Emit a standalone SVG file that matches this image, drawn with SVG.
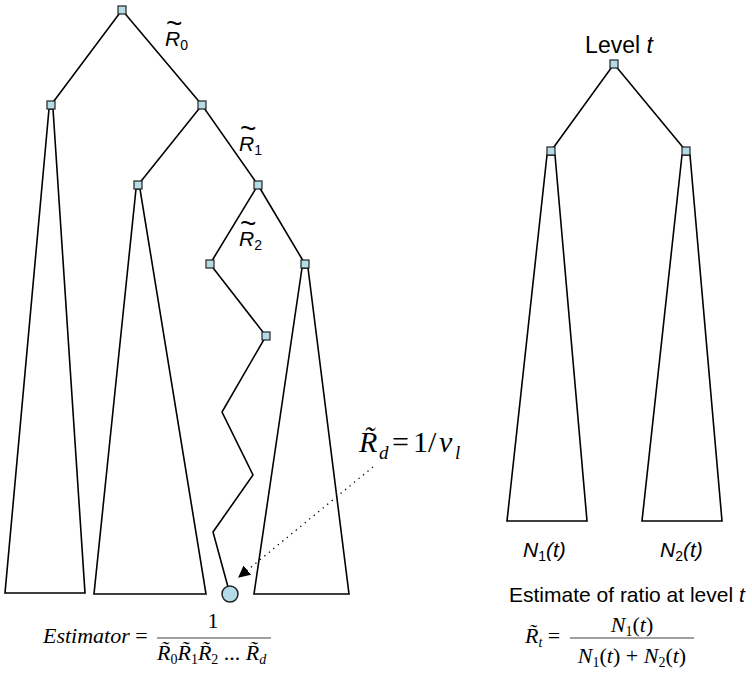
<svg xmlns="http://www.w3.org/2000/svg" width="752" height="673" viewBox="0 0 752 673">
<defs>
<style>
.ln{fill:none;stroke:#000;stroke-width:1.6;stroke-linejoin:miter}
.nd{fill:#b4dce8;stroke:#222;stroke-width:1.2}
.sa{font-family:"Liberation Sans",Arial,sans-serif;font-size:21px;fill:#000}
.sai{font-family:"Liberation Sans",Arial,sans-serif;font-size:21px;font-style:italic;fill:#000}
.tl{font-family:"Liberation Sans",Arial,sans-serif;font-size:28px;font-style:normal}
.ti{font-family:"Liberation Serif","Times New Roman",serif;font-size:22px;font-style:italic;fill:#000}
.tr{font-family:"Liberation Serif","Times New Roman",serif;font-size:22px;fill:#000}
.big{font-size:30px}
.fr{stroke:#808080;stroke-width:1.4}
</style>
<marker id="ah" viewBox="0 0 10 10" refX="9" refY="5" markerWidth="12" markerHeight="12" markerUnits="userSpaceOnUse" orient="auto">
<path d="M0,0 L10,5 L0,10 z" fill="#000"/>
</marker>
</defs>
<rect width="752" height="673" fill="#fff"/>
<g id="connectors">
<polyline class="ln" points="51,105 122,10 202,105"/>
<polyline class="ln" points="138,185 202,105 258,185 305,264"/>
<polyline class="ln" points="258,185 210,264 266,336 222,412 253,475 213,532 228,587"/>
<polygon class="ln" points="49,109 5,593 85,593 53,109"/>
<polygon class="ln" points="136,189 94,594 206,594 140,189"/>
<polygon class="ln" points="302,268 254,594 349,594 308,268"/>
<polyline class="ln" points="551,151 614,64 686,151"/>
<polygon class="ln" points="547,155 507,521 587,521 555,155"/>
<polygon class="ln" points="682,155 642,521 722,521 690,155"/>
<line x1="373" y1="467" x2="239" y2="577" stroke="#000" stroke-width="1.3" stroke-dasharray="1.3 4.5" marker-end="url(#ah)"/>
</g>
<g id="n0"><rect class="nd" x="118" y="6" width="8" height="8"/></g>
<g id="n1"><rect class="nd" x="47" y="101" width="8" height="8"/></g>
<g id="n2"><rect class="nd" x="198" y="101" width="8" height="8"/></g>
<g id="n3"><rect class="nd" x="134" y="181" width="8" height="8"/></g>
<g id="n4"><rect class="nd" x="254" y="181" width="8" height="8"/></g>
<g id="n5"><rect class="nd" x="206" y="260" width="8" height="8"/></g>
<g id="n6"><rect class="nd" x="301" y="260" width="8" height="8"/></g>
<g id="n7"><rect class="nd" x="262" y="332" width="8" height="8"/></g>
<g id="leaf"><circle cx="230" cy="594" r="8" fill="#b4dce8" stroke="#222" stroke-width="1.5"/></g>
<g id="r0"><rect class="nd" x="610" y="60" width="8" height="8"/></g>
<g id="r1"><rect class="nd" x="547" y="147" width="8" height="8"/></g>
<g id="r2"><rect class="nd" x="682" y="147" width="8" height="8"/></g>
<g id="labels">
<text class="sai"><tspan class="tl" x="166" y="33">~</tspan><tspan x="165" y="46">R</tspan><tspan style="font-size:14px;font-style:normal" dy="4">0</tspan></text>
<text class="sai"><tspan class="tl" x="240" y="138">~</tspan><tspan x="239" y="151">R</tspan><tspan style="font-size:14px;font-style:normal" dy="4">1</tspan></text>
<text class="sai"><tspan class="tl" x="240" y="233">~</tspan><tspan x="239" y="246">R</tspan><tspan style="font-size:14px;font-style:normal" dy="4">2</tspan></text>
<text class="sa" x="619" y="53" style="font-size:23px" text-anchor="middle">Level <tspan font-style="italic">t</tspan></text>
<text class="sai" x="523" y="557">N<tspan style="font-size:14px;font-style:normal" dy="4">1</tspan><tspan dy="-4">(t)</tspan></text>
<text class="sai" x="660" y="557">N<tspan style="font-size:14px;font-style:normal" dy="4">2</tspan><tspan dy="-4">(t)</tspan></text>
<text class="sa" x="509" y="602">Estimate of ratio at level <tspan font-style="italic">t</tspan></text>
<text class="ti big"><tspan x="359" y="452">R&#x303;</tspan><tspan style="font-size:19px" x="379" y="459">d</tspan><tspan font-style="normal" x="392" y="452">=</tspan><tspan font-style="normal" x="413" y="452">1</tspan><tspan font-style="normal" x="428" y="452">/</tspan><tspan x="439" y="452">v</tspan><tspan style="font-size:19px" x="455" y="459">l</tspan></text>
<text class="ti" x="43" y="643">Estimator<tspan font-style="normal"> =</tspan></text>
<text class="tr" x="213" y="628" text-anchor="middle">1</text>
<line class="fr" x1="157" y1="638" x2="271" y2="638"/>
<text class="ti" x="157" y="660">R&#x303;<tspan style="font-size:14px;font-style:normal" dy="4">0</tspan><tspan dy="-4">R&#x303;</tspan><tspan style="font-size:14px;font-style:normal" dy="4">1</tspan><tspan dy="-4">R&#x303;</tspan><tspan style="font-size:14px;font-style:normal" dy="4">2</tspan><tspan dy="-4" font-style="normal"> ... </tspan>R&#x303;<tspan style="font-size:14px" dy="4">d</tspan></text>
<text class="ti" x="525" y="643">R&#x303;<tspan style="font-size:14px" dy="4">t</tspan><tspan font-style="normal" dy="-4"> =</tspan></text>
<line class="fr" x1="570" y1="638" x2="694" y2="638"/>
<text class="ti" x="632" y="632" text-anchor="middle">N<tspan style="font-size:14px;font-style:normal" dy="4">1</tspan><tspan dy="-4" font-style="normal">(</tspan>t<tspan font-style="normal">)</tspan></text>
<text class="ti" x="632" y="663" text-anchor="middle">N<tspan style="font-size:14px;font-style:normal" dy="4">1</tspan><tspan dy="-4" font-style="normal">(</tspan>t<tspan font-style="normal">) + </tspan>N<tspan style="font-size:14px;font-style:normal" dy="4">2</tspan><tspan dy="-4" font-style="normal">(</tspan>t<tspan font-style="normal">)</tspan></text>
</g>
</svg>
